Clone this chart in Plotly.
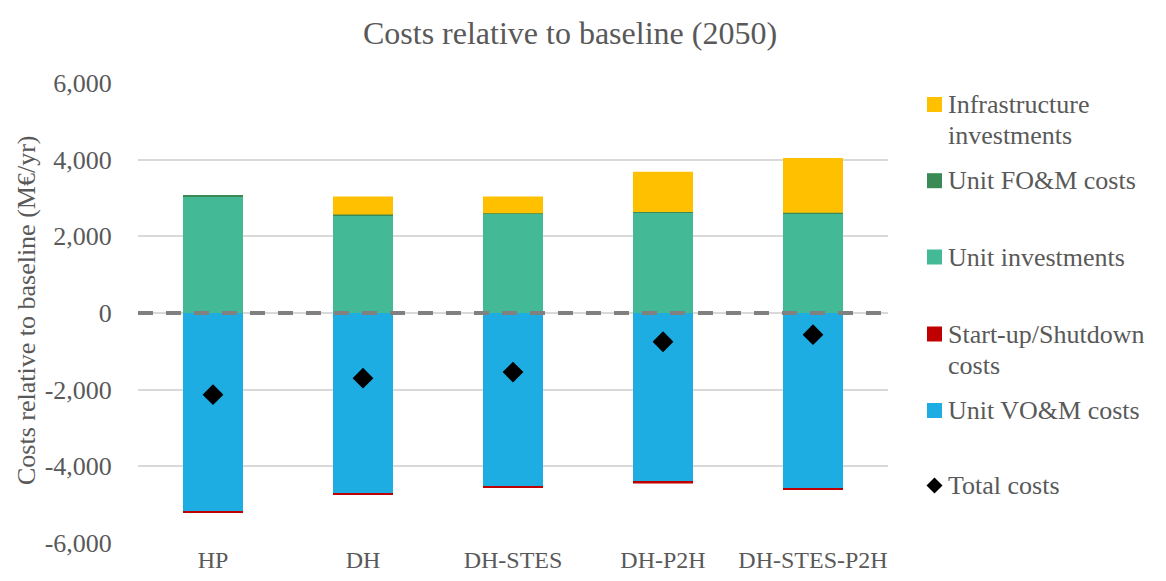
import plotly.graph_objects as go

# Scenario categories
scenarios = ["HP", "DH", "DH-STES", "DH-P2H", "DH-STES-P2H"]

# Cost components relative to baseline (M€/yr)
unit_vom = [-5170, -4700, -4525, -4405, -4570]
startup_shutdown = [-40, -40, -40, -40, -40]
unit_investments = [3050, 2555, 2585, 2610, 2595]
unit_fom = [25, 15, 15, 25, 20]
infrastructure = [0, 470, 440, 1050, 1430]
total_costs = [-2130, -1700, -1540, -750, -565]

y_ticks = [-6000, -4000, -2000, 0, 2000, 4000, 6000]
y_tick_labels = [f"{v:,}" for v in y_ticks]

FONT = "Liberation Serif"
GREY = "#595959"

# Plot area in pixels (used for placing the hand-made legend)
W, H = 1166, 581
L, R, T, B = 138, 888, 83, 543


def px_x(x):
    return (x - L) / (R - L)


def px_y(y):
    return (B - y) / (B - T)


series = [
    ("Unit VO&M costs", unit_vom, "#1EADE3"),
    ("Start-up/Shutdown costs", startup_shutdown, "#C00000"),
    ("Unit investments", unit_investments, "#43B995"),
    ("Unit FO&M costs", unit_fom, "#3A8A55"),
    ("Infrastructure investments", infrastructure, "#FFC000"),
]

fig = go.Figure()
for name, vals, col in series:
    fig.add_trace(go.Bar(
        x=scenarios, y=vals, name=name, width=0.4,
        marker=dict(color=col, line=dict(width=0)),
        showlegend=False,
    ))

fig.add_trace(go.Scatter(
    x=scenarios, y=total_costs, mode="markers", name="Total costs",
    marker=dict(symbol="diamond", size=16, color="black"),
    showlegend=False,
))

# Dashed zero line
fig.add_shape(type="line", xref="paper", x0=0, x1=1, yref="y", y0=0, y1=0,
              line=dict(color="#808080", width=4, dash="15px,13px"), layer="above")

# Legend drawn by hand
legend_items = [
    ("Infrastructure investments", "#FFC000", "square", 104.5, ["Infrastructure", "investments"]),
    ("Unit FO&M costs", "#3A8A55", "square", 180.7, ["Unit FO&M costs"]),
    ("Unit investments", "#43B995", "square", 257, ["Unit investments"]),
    ("Start-up/Shutdown costs", "#C00000", "square", 334, ["Start-up/Shutdown", "costs"]),
    ("Unit VO&M costs", "#1EADE3", "square", 410.5, ["Unit VO&M costs"]),
    ("Total costs", "black", "diamond", 485.5, ["Total costs"]),
]
for _, col, sym, yc, lines in legend_items:
    if sym == "square":
        fig.add_shape(type="rect", xref="paper", yref="paper",
                      x0=px_x(927), x1=px_x(942), y0=px_y(yc + 7.5), y1=px_y(yc - 7.5),
                      fillcolor=col, line=dict(width=0))
    else:
        cx = 934.5
        path = "M {},{} L {},{} L {},{} L {},{} Z".format(
            px_x(cx), px_y(yc - 8), px_x(cx + 8), px_y(yc),
            px_x(cx), px_y(yc + 8), px_x(cx - 8), px_y(yc))
        fig.add_shape(type="path", xref="paper", yref="paper", path=path,
                      fillcolor=col, line=dict(width=0))
    for i, line in enumerate(lines):
        fig.add_annotation(text=line, xref="paper", yref="paper",
                           x=px_x(946), y=px_y(yc + i * 31),
                           xanchor="left", yanchor="middle", showarrow=False,
                           font=dict(family=FONT, size=26, color=GREY))

# Y-axis title
fig.add_annotation(text="Costs relative to baseline (M€/yr)", xref="paper", yref="paper",
                   x=px_x(26), y=px_y(311), textangle=-90, showarrow=False,
                   xanchor="center", yanchor="middle",
                   font=dict(family=FONT, size=26, color=GREY))

fig.update_layout(
    width=W, height=H,
    margin=dict(l=L, r=W - R, t=T, b=H - B, pad=0, autoexpand=False),
    barmode="relative",
    plot_bgcolor="white", paper_bgcolor="white",
    title=dict(text="Costs relative to baseline (2050)", x=570 / W, xref="container",
               xanchor="center", y=1 - 33 / H, yref="container", yanchor="middle",
               font=dict(family=FONT, size=32, color=GREY)),
    font=dict(family=FONT, color=GREY),
)
fig.update_yaxes(range=[-6000, 6000], tickvals=y_ticks, ticktext=y_tick_labels,
                 automargin=False,
                 showgrid=True, gridcolor="#D9D9D9", gridwidth=1.5,
                 zeroline=False, showline=False,
                 ticks="outside", ticklen=20, tickcolor="rgba(0,0,0,0)",
                 tickfont=dict(family=FONT, size=26, color=GREY))
fig.update_xaxes(range=[-0.5, 4.5], automargin=False,
                 showgrid=False, showline=False, zeroline=False,
                 ticks="",
                 tickfont=dict(family=FONT, size=24, color=GREY))

fig.write_html("out.html")
